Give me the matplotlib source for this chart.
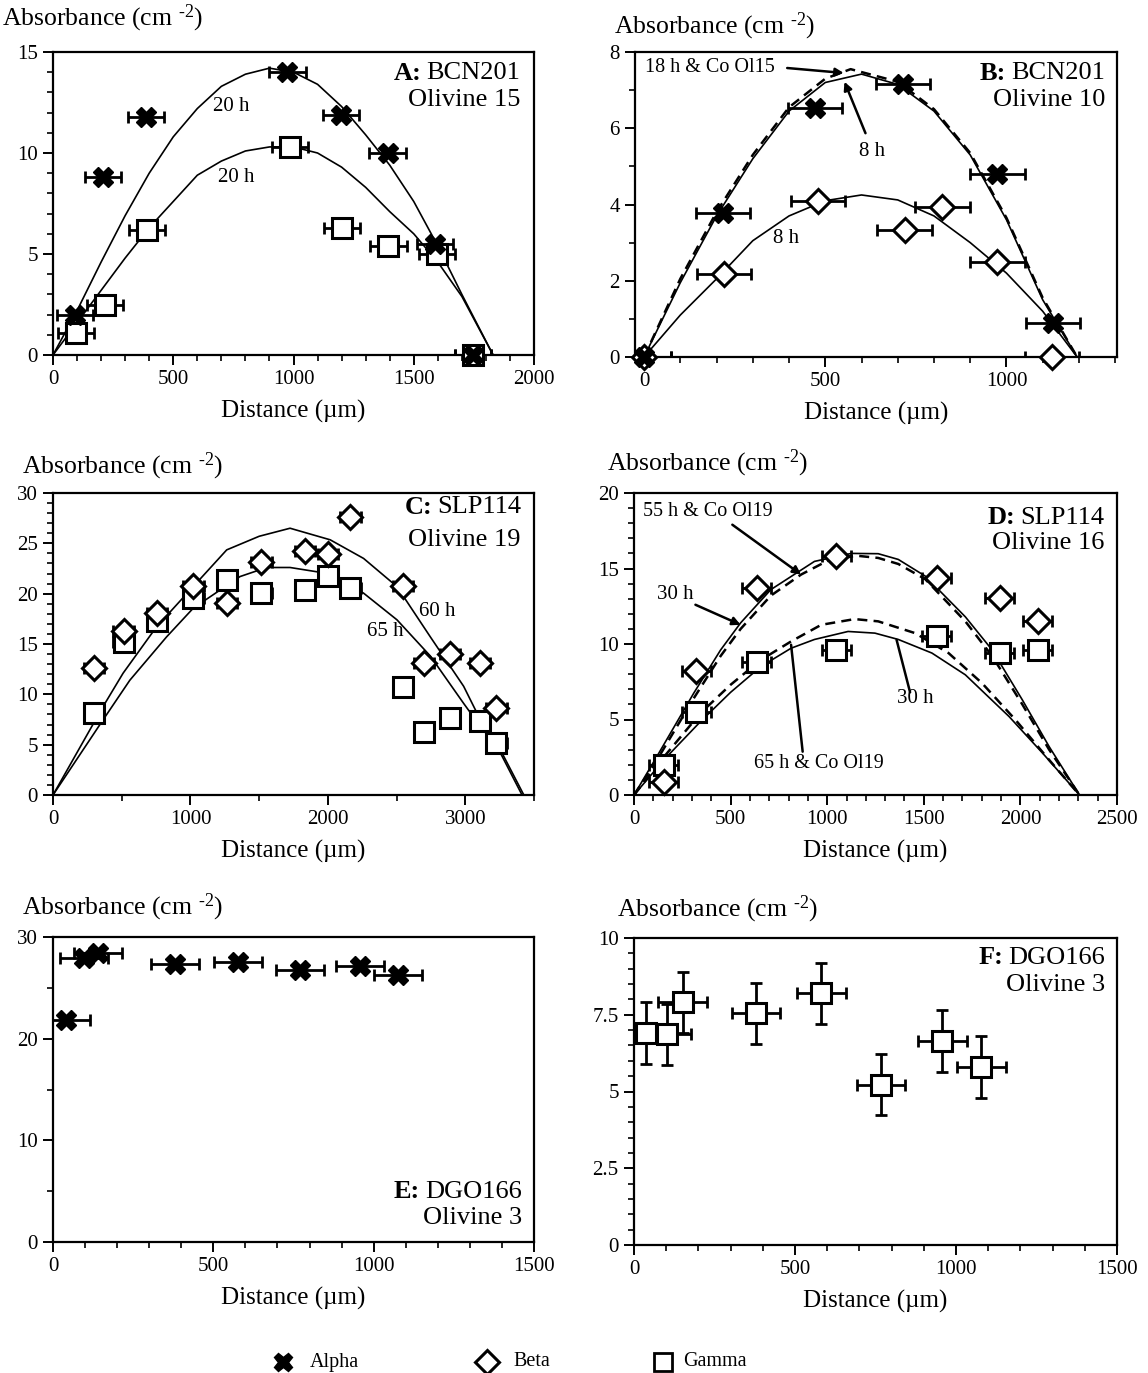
import numpy as np
import matplotlib
matplotlib.use('Agg')
import matplotlib.pyplot as plt
from matplotlib.ticker import MultipleLocator, FormatStrFormatter

plt.rcParams['font.family'] = ['Liberation Serif', 'DejaVu Serif']
plt.rcParams['mathtext.fontset'] = 'custom'
plt.rcParams['mathtext.rm'] = 'Liberation Serif'
plt.rcParams['mathtext.it'] = 'Liberation Serif:italic'
plt.rcParams['mathtext.bf'] = 'Liberation Serif:bold'

# ---- data ----
X_ERR = 75  # um, horizontal error on every analysis

# A: BCN201 olivine 15
A_alpha_x = [91, 209, 385, 975, 1199, 1391, 1587, 1745]
A_alpha_y = [2.0, 8.8, 11.8, 14.0, 11.9, 10.0, 5.5, 0.0]
A_gamma_x = [95, 215, 390, 987, 1202, 1395, 1595, 1745]
A_gamma_y = [1.1, 2.5, 6.2, 10.3, 6.3, 5.4, 5.0, 0.0]
A_fit_x = [0, 100, 200, 300, 400, 500, 600, 700, 800, 900, 1000, 1100, 1200, 1300, 1400, 1500, 1600, 1700, 1830]
A_fit_alpha = [0, 2.2, 4.6, 6.9, 9.0, 10.8, 12.2, 13.3, 13.9, 14.2, 14.0, 13.4, 12.3, 10.9, 9.4, 7.6, 5.4, 3.0, 0]
A_fit_gamma = [0, 1.6, 3.2, 4.8, 6.3, 7.6, 8.9, 9.6, 10.1, 10.3, 10.3, 10.0, 9.3, 8.3, 7.1, 6.0, 4.6, 2.9, 0]

# B: BCN201 olivine 10
B_alpha_x = [0, 217, 472, 714, 975, 1128]
B_alpha_y = [0.0, 3.78, 6.52, 7.17, 4.79, 0.89]
B_beta_x = [0, 220, 480, 719, 823, 975, 1125]
B_beta_y = [0.0, 2.19, 4.1, 3.34, 3.94, 2.49, 0.0]
B_fit_x = [0, 100, 200, 300, 400, 500, 600, 700, 800, 900, 1000, 1100, 1195]
B_fit_alpha = [0, 1.95, 3.7, 5.2, 6.45, 7.2, 7.42, 7.15, 6.45, 5.3, 3.6, 1.5, 0]
B_fit_co_x = [0, 100, 200, 300, 400, 500, 570, 700, 800, 900, 1000, 1100, 1195]
B_fit_co = [0, 2.05, 3.8, 5.3, 6.55, 7.3, 7.55, 7.22, 6.5, 5.35, 3.65, 1.55, 0]
B_fit_beta = [0, 1.1, 2.05, 3.05, 3.7, 4.1, 4.25, 4.12, 3.7, 3.0, 2.2, 1.2, 0]

# C: SLP114 olivine 19
C_x = [298, 515, 757, 1021, 1266, 1517, 1834, 2000, 2164, 2546, 2699, 2889, 3108, 3227]
C_beta = [12.63, 16.28, 18.09, 20.72, 19.08, 23.19, 24.28, 23.95, 27.57, 20.72, 13.09, 14.05, 13.09, 8.62]
C_gamma = [8.16, 15.2, 17.27, 19.57, 21.38, 20.07, 20.33, 21.71, 20.56, 10.69, 6.25, 7.63, 7.4, 5.2]
C_fit60_x = [0, 364, 510, 753, 1020, 1264, 1500, 1725, 2017, 2260, 2503, 2746, 2988, 3110, 3232, 3426]
C_fit60 = [0, 8.78, 12.1, 16.7, 20.7, 24.35, 25.7, 26.5, 25.35, 23.5, 20.7, 15.7, 10.8, 7.46, 5.1, 0]
C_fit65_x = [0, 364, 559, 826, 1020, 1361, 1555, 1725, 2000, 2260, 2503, 2746, 2988, 3110, 3232, 3413]
C_fit65 = [0, 7.46, 11.4, 15.7, 18.55, 21.7, 22.6, 22.6, 22.0, 20.05, 17.4, 13.8, 9.1, 6.8, 4.8, 0]

# D: SLP114 olivine 16
D_x = [153, 323, 635, 1047, 1568, 1892, 2089]
D_beta = [0.88, 8.24, 13.7, 15.8, 14.4, 13.04, 11.5]
D_gamma = [1.99, 5.52, 8.84, 9.57, 10.54, 9.4, 9.57]
D_fit_beta_x = [0, 118, 309, 448, 552, 708, 934, 1125, 1264, 1368, 1507, 1715, 1854, 2010, 2149, 2306]
D_fit_beta = [0, 2.54, 6.74, 9.6, 11.4, 13.6, 15.47, 16.0, 15.98, 15.6, 14.5, 11.8, 9.6, 6.3, 3.2, 0]
D_fit_beta_co_x = [0, 118, 309, 448, 552, 708, 865, 1000, 1150, 1264, 1368, 1507, 1715, 1854, 2010, 2149, 2306]
D_fit_beta_co = [0, 2.3, 6.4, 9.2, 11.0, 13.2, 14.6, 15.5, 15.85, 15.7, 15.3, 14.3, 11.5, 9.2, 6.0, 3.0, 0]
D_fit_gamma_x = [0, 160, 344, 500, 656, 813, 934, 1108, 1247, 1368, 1542, 1715, 1941, 2115, 2306]
D_fit_gamma = [0, 2.4, 4.86, 6.8, 8.5, 9.72, 10.3, 10.83, 10.72, 10.3, 9.4, 7.96, 5.2, 2.77, 0]
D_fit_gamma_co_x = [0, 160, 344, 500, 656, 813, 969, 1142, 1264, 1455, 1628, 1802, 1975, 2149, 2306]
D_fit_gamma_co = [0, 2.6, 5.42, 7.3, 8.94, 10.17, 11.27, 11.65, 11.5, 10.72, 9.4, 7.4, 4.97, 2.32, 0]

# E: DGO166 olivine 3 (alpha)
E_x = [40, 96, 139, 380, 578, 771, 958, 1077]
E_alpha = [21.8, 27.9, 28.45, 27.3, 27.5, 26.8, 27.1, 26.3]

# F: DGO166 olivine 3 (gamma)
F_x = [38, 101, 151, 378, 582, 767, 958, 1079]
F_gamma = [6.91, 6.86, 7.9, 7.55, 8.2, 5.22, 6.64, 5.8]
F_gamma_err = 1.0

# ---- figure ----
W, H = 1148, 1373
fig = plt.figure(figsize=(W / 100, H / 100), dpi=100)
renderer = fig.canvas.get_renderer()


def make_ax(l, t, r, b, xlim, ylim, xmaj, xmin, ymaj, ymin):
    ax = fig.add_axes([l / W, 1 - b / H, (r - l) / W, (b - t) / H])
    ax.set_xlim(xlim)
    ax.set_ylim(ylim)
    ax.xaxis.set_major_locator(MultipleLocator(xmaj))
    ax.xaxis.set_minor_locator(MultipleLocator(xmin))
    ax.yaxis.set_major_locator(MultipleLocator(ymaj))
    ax.yaxis.set_minor_locator(MultipleLocator(ymin))
    ax.yaxis.set_major_formatter(FormatStrFormatter('%g'))
    ax.tick_params(which='both', direction='out', top=False, right=False, labelsize=15)
    ax.tick_params(which='major', length=7, width=1.4, pad=4)
    ax.tick_params(which='minor', length=4, width=1.2)
    for s in ax.spines.values():
        s.set_linewidth(1.6)
    # axis titles sit outside the box like in the paper
    fig.text((l + r) / 2 / W, 1 - (b + 56) / H, 'Distance (µm)', fontsize=18, ha='center', va='center')
    return ax


def ylab(x, y):
    fig.text(x / W, 1 - y / H, r'Absorbance (cm $^{\text{-}2}$)', fontsize=18.5, ha='left', va='center')


def tag(x, y1, y2, letter, sample, olivine):
    # bold "A:" then the sample name, right aligned
    t = fig.text(x / W, 1 - y1 / H, sample, fontsize=19, ha='right', va='center')
    x0 = t.get_window_extent(renderer).x0
    fig.text((x0 - 5) / W, 1 - y1 / H, letter + ':', fontsize=19, fontweight='bold', ha='right', va='center')
    fig.text(x / W, 1 - y2 / H, olivine, fontsize=19, ha='right', va='center')


def pts(ax, x, y, kind, xerr=X_ERR, yerr=None):
    ax.errorbar(x, y, xerr=xerr, yerr=yerr, fmt='none', ecolor='k', elinewidth=2,
                capsize=4.5, capthick=2, zorder=3)
    if kind == 'alpha':
        ax.plot(x, y, ls='none', marker='X', ms=14, color='k', mec='k', zorder=4, clip_on=False)
    elif kind == 'beta':
        ax.plot(x, y, ls='none', marker='D', ms=12, mfc='white', mec='k', mew=2.2, zorder=4, clip_on=False)
    else:
        ax.plot(x, y, ls='none', marker='s', ms=14, mfc='white', mec='k', mew=2.2, zorder=4, clip_on=False)


solid = dict(color='k', lw=1.2, zorder=2)
dashed = dict(color='k', lw=1.8, ls=(0, (4, 2.5)), zorder=2)
arrow = dict(arrowstyle='-|>', color='k', lw=1.8, mutation_scale=12, shrinkA=0, shrinkB=0)
plain = dict(arrowstyle='-', color='k', lw=1.8, shrinkA=0, shrinkB=0)
fs = 15

# A
ax = make_ax(53, 52, 534, 355, (0, 2000), (0, 15), 500, 100, 5, 1)
ax.plot(A_fit_x, A_fit_alpha, **solid)
ax.plot(A_fit_x, A_fit_gamma, **solid)
pts(ax, A_gamma_x, A_gamma_y, 'gamma')
pts(ax, A_alpha_x, A_alpha_y, 'alpha')
ax.text(740, 12.3, '20 h', fontsize=fs, ha='center', va='center')
ax.text(760, 8.8, '20 h', fontsize=fs, ha='center', va='center')
ylab(2, 18)
tag(520, 73, 100, 'A', 'BCN201', 'Olivine 15')

# B
ax = make_ax(635, 52, 1117, 357, (-25, 1305), (0, 8), 500, 100, 2, 1)
ax.plot(B_fit_co_x, B_fit_co, **dashed)
ax.plot(B_fit_x, B_fit_alpha, **solid)
ax.plot(B_fit_x, B_fit_beta, **solid)
pts(ax, B_beta_x, B_beta_y, 'beta')
pts(ax, B_alpha_x, B_alpha_y, 'alpha')
ax.text(3, 7.6, '18 h & Co Ol15', fontsize=fs - 0.5, ha='left', va='center')
ax.annotate('', xy=(551, 7.45), xytext=(395, 7.58), arrowprops=arrow)
ax.text(629, 5.4, '8 h', fontsize=fs, ha='center', va='center')
ax.annotate('', xy=(553, 7.22), xytext=(611, 5.87), arrowprops=arrow)
ax.text(392, 3.12, '8 h', fontsize=fs, ha='center', va='center')
ylab(614, 26)
tag(1105, 73, 100, 'B', 'BCN201', 'Olivine 10')

# C
ax = make_ax(53, 493, 534, 795, (0, 3500), (0, 30), 1000, 500, 5, 1)
ax.plot(C_fit60_x, C_fit60, **solid)
ax.plot(C_fit65_x, C_fit65, **solid)
pts(ax, C_x, C_gamma, 'gamma')
pts(ax, C_x, C_beta, 'beta')
ax.text(2795, 18.2, '60 h', fontsize=fs, ha='center', va='center')
ax.text(2418, 16.2, '65 h', fontsize=fs, ha='center', va='center')
ylab(22, 466)
tag(521, 507, 540, 'C', 'SLP114', 'Olivine 19')

# D
ax = make_ax(634, 493, 1117, 795, (0, 2500), (0, 20), 500, 100, 5, 1)
ax.plot(D_fit_beta_x, D_fit_beta, **solid)
ax.plot(D_fit_beta_co_x, D_fit_beta_co, **dashed)
ax.plot(D_fit_gamma_x, D_fit_gamma, **solid)
ax.plot(D_fit_gamma_co_x, D_fit_gamma_co, **dashed)
pts(ax, D_x, D_gamma, 'gamma')
pts(ax, D_x, D_beta, 'beta')
ax.text(45, 18.8, '55 h & Co Ol19', fontsize=fs - 0.5, ha='left', va='center')
ax.annotate('', xy=(865, 14.6), xytext=(509, 17.9), arrowprops=arrow)
ax.text(213, 13.26, '30 h', fontsize=fs, ha='center', va='center')
ax.annotate('', xy=(552, 11.27), xytext=(318, 12.6), arrowprops=arrow)
ax.text(955, 2.1, '65 h & Co Ol19', fontsize=fs - 0.5, ha='center', va='center')
ax.annotate('', xy=(813, 9.95), xytext=(873, 2.87), arrowprops=plain)
ax.text(1455, 6.4, '30 h', fontsize=fs, ha='center', va='center')
ax.annotate('', xy=(1359, 10.28), xytext=(1429, 6.8), arrowprops=plain)
ylab(607, 463)
tag(1104, 518, 543, 'D', 'SLP114', 'Olivine 16')

# E
ax = make_ax(53, 937, 534, 1242, (0, 1500), (0, 30), 500, 100, 10, 5)
pts(ax, E_x, E_alpha, 'alpha')
ylab(22, 907)
tag(522, 1192, 1218, 'E', 'DGO166', 'Olivine 3')

# F
ax = make_ax(634, 938, 1117, 1245, (0, 1500), (0, 10), 500, 100, 2.5, 0.5)
pts(ax, F_x, F_gamma, 'gamma', yerr=F_gamma_err)
ylab(617, 909)
tag(1105, 958, 985, 'F', 'DGO166', 'Olivine 3')

# legend along the bottom
lg = fig.add_axes([0, 0, 1, 1])
lg.set_xlim(0, W)
lg.set_ylim(H, 0)
lg.axis('off')
lg.plot([283], [1362], ls='none', marker='X', ms=13, color='k')
lg.plot([487], [1362], ls='none', marker='D', ms=12, mfc='white', mec='k', mew=2.2)
lg.plot([663], [1362], ls='none', marker='s', ms=13, mfc='white', mec='k', mew=2)
lg.text(310, 1362, 'Alpha', fontsize=14.5, va='center')
lg.text(513, 1362, 'Beta', fontsize=14.5, va='center')
lg.text(683, 1362, 'Gamma', fontsize=14.5, va='center')

plt.savefig('out.png', dpi=100)
